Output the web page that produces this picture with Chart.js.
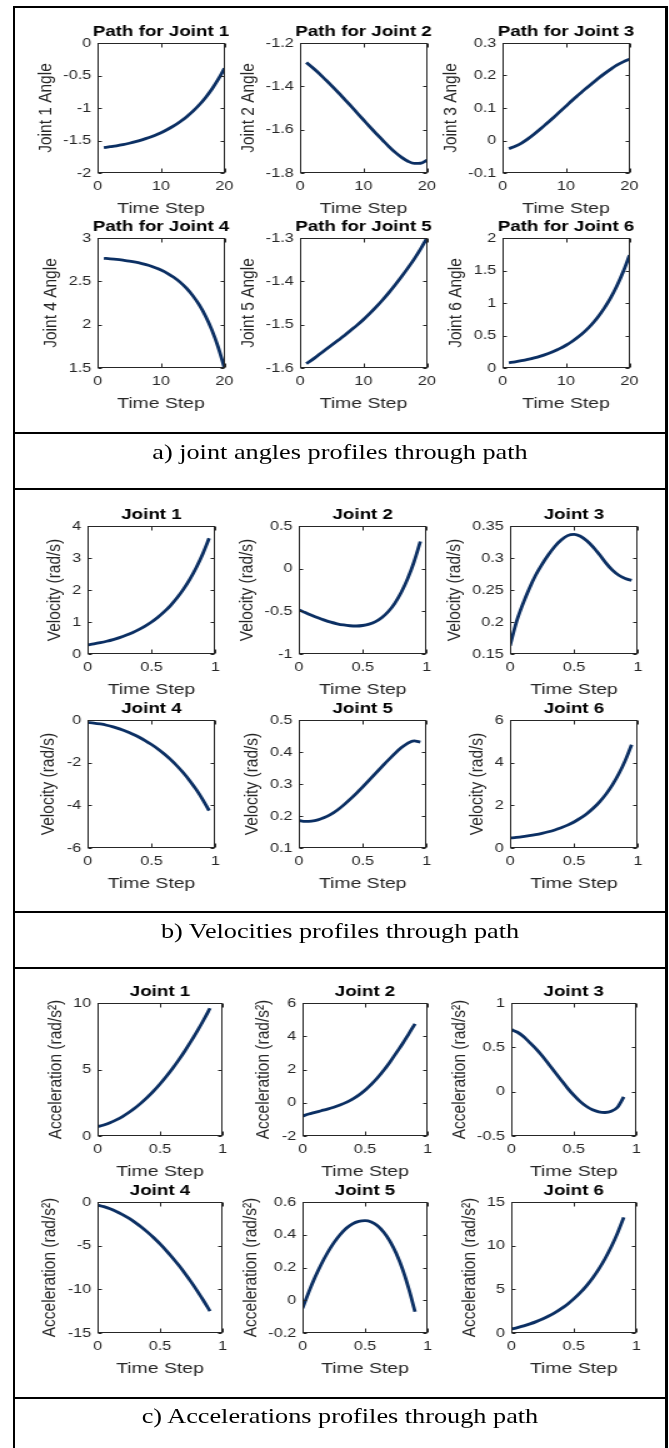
<!DOCTYPE html>
<html>
<head>
<meta charset="utf-8">
<title>Joint profiles through path</title>
<script src="https://cdn.jsdelivr.net/npm/chart.js@4.4.1/dist/chart.umd.min.js"></script>
<style>
  body { margin: 0; background: #fff; }
  #page { position: relative; width: 669px; height: 1448px; overflow: hidden; background: #fff; }
  /* the source figure is stretched sideways, so draw narrow and widen */
  #sheet { position: absolute; left: 0; top: 0; width: 535.2px; height: 1448px; transform: scaleX(1.25); transform-origin: 0 0; }
  .rule { position: absolute; background: #000; }
  .caption { position: absolute; left: 11.2px; width: 521.6px; text-align: center; font-family: "Liberation Serif", "Times New Roman", serif; font-size: 21px; line-height: 24px; color: #000; white-space: nowrap; }
  canvas { position: absolute; }
</style>
</head>
<body>
<div id="page">
  <div id="sheet">
    <div class="caption" style="top:440px">a) joint angles profiles through path</div>
    <div class="caption" style="top:919px">b) Velocities profiles through path</div>
    <div class="caption" style="top:1404px">c) Accelerations profiles through path</div>
  </div>
  <div class="rule" style="left:13px;top:6px;width:655px;height:2px"></div>
  <div class="rule" style="left:13px;top:6px;width:2px;height:1442px"></div>
  <div class="rule" style="left:665px;top:6px;width:2.5px;height:1442px"></div>
  <div class="rule" style="left:13px;top:432px;width:655px;height:2px"></div>
  <div class="rule" style="left:13px;top:488px;width:655px;height:2px"></div>
  <div class="rule" style="left:13px;top:911px;width:655px;height:2px"></div>
  <div class="rule" style="left:13px;top:967px;width:655px;height:2px"></div>
  <div class="rule" style="left:13px;top:1397px;width:655px;height:2px"></div>
</div>

<script>
// x values
const steps = [1, 2, 3, 4, 5, 6, 7, 8, 9, 10, 11, 12, 13, 14, 15, 16, 17, 18, 19, 20];
const timeVel = [0, 0.05, 0.1, 0.15, 0.2, 0.25, 0.3, 0.35, 0.4, 0.45, 0.5, 0.55, 0.6, 0.65, 0.7, 0.75, 0.8, 0.85, 0.9, 0.95];
const timeAcc = [0, 0.05, 0.1, 0.15, 0.2, 0.25, 0.3, 0.35, 0.4, 0.45, 0.5, 0.55, 0.6, 0.65, 0.7, 0.75, 0.8, 0.85, 0.9];

// a) joint angles
const angle1 = [-1.61, -1.596, -1.581, -1.563, -1.542, -1.518, -1.49, -1.459, -1.422, -1.38, -1.331, -1.276, -1.211, -1.137, -1.052, -0.954, -0.841, -0.711, -0.561, -0.389];
const angle2 = [-1.29, -1.314, -1.34, -1.369, -1.398, -1.428, -1.459, -1.49, -1.523, -1.555, -1.587, -1.618, -1.648, -1.678, -1.705, -1.728, -1.746, -1.756, -1.755, -1.741];
const angle3 = [-0.025, -0.018, -0.008, 0.005, 0.02, 0.036, 0.053, 0.07, 0.088, 0.106, 0.124, 0.141, 0.158, 0.174, 0.19, 0.205, 0.219, 0.232, 0.242, 0.25];
const angle4 = [2.766, 2.76, 2.753, 2.744, 2.734, 2.721, 2.704, 2.685, 2.66, 2.63, 2.593, 2.547, 2.491, 2.421, 2.335, 2.23, 2.1, 1.94, 1.742, 1.499];
const angle5 = [-1.59, -1.58, -1.569, -1.558, -1.547, -1.536, -1.525, -1.513, -1.501, -1.488, -1.474, -1.459, -1.443, -1.426, -1.408, -1.389, -1.369, -1.348, -1.325, -1.3];
const angle6 = [0.08, 0.095, 0.112, 0.132, 0.155, 0.183, 0.216, 0.254, 0.298, 0.35, 0.411, 0.483, 0.567, 0.666, 0.781, 0.917, 1.075, 1.261, 1.48, 1.735];

// b) velocities
const vel1 = [0.28, 0.314, 0.353, 0.398, 0.451, 0.512, 0.583, 0.665, 0.76, 0.871, 1.0, 1.149, 1.322, 1.522, 1.755, 2.026, 2.339, 2.703, 3.126, 3.616];
const vel2 = [-0.48, -0.514, -0.546, -0.576, -0.603, -0.627, -0.646, -0.66, -0.669, -0.672, -0.666, -0.65, -0.62, -0.572, -0.502, -0.406, -0.28, -0.12, 0.078, 0.318];
const vel3 = [0.163, 0.2, 0.228, 0.252, 0.273, 0.29, 0.305, 0.318, 0.328, 0.335, 0.337, 0.334, 0.327, 0.317, 0.305, 0.292, 0.281, 0.273, 0.268, 0.265];
const vel4 = [-0.12, -0.142, -0.186, -0.247, -0.324, -0.417, -0.527, -0.654, -0.797, -0.962, -1.149, -1.358, -1.595, -1.859, -2.156, -2.486, -2.855, -3.267, -3.729, -4.246];
const vel5 = [0.186, 0.183, 0.184, 0.188, 0.195, 0.205, 0.218, 0.234, 0.252, 0.271, 0.291, 0.312, 0.333, 0.354, 0.375, 0.395, 0.413, 0.427, 0.435, 0.431];
const vel6 = [0.47, 0.499, 0.535, 0.577, 0.627, 0.688, 0.76, 0.846, 0.949, 1.073, 1.22, 1.397, 1.609, 1.862, 2.164, 2.526, 2.959, 3.478, 4.097, 4.839];

// c) accelerations
const acc1 = [0.7, 0.826, 0.996, 1.209, 1.465, 1.764, 2.107, 2.494, 2.923, 3.396, 3.913, 4.472, 5.075, 5.722, 6.411, 7.144, 7.921, 8.741, 9.604];
const acc2 = [-0.8, -0.68, -0.58, -0.48, -0.38, -0.27, -0.14, 0.02, 0.22, 0.46, 0.75, 1.1, 1.5, 1.95, 2.45, 3.0, 3.55, 4.15, 4.75];
const acc3 = [0.7, 0.67, 0.62, 0.55, 0.48, 0.4, 0.31, 0.22, 0.13, 0.04, -0.04, -0.11, -0.165, -0.205, -0.228, -0.235, -0.222, -0.175, -0.06];
const acc4 = [-0.35, -0.536, -0.78, -1.081, -1.44, -1.856, -2.33, -2.861, -3.45, -4.096, -4.8, -5.561, -6.38, -7.256, -8.19, -9.181, -10.23, -11.336, -12.5];
const acc5 = [-0.05, 0.05, 0.14, 0.22, 0.29, 0.35, 0.4, 0.44, 0.467, 0.482, 0.486, 0.478, 0.455, 0.415, 0.36, 0.285, 0.19, 0.07, -0.07];
const acc6 = [0.45, 0.621, 0.817, 1.043, 1.302, 1.6, 1.942, 2.335, 2.786, 3.305, 3.9, 4.584, 5.37, 6.272, 7.309, 8.5, 9.868, 11.439, 13.245];

// axis limits [min, max, step]
const stepAxis = [0, 20, 10];
const timeAxis = [0, 1, 0.5];
const angleLimits = [[-2, 0, 0.5], [-1.8, -1.2, 0.2], [-0.1, 0.3, 0.1], [1.5, 3, 0.5], [-1.6, -1.3, 0.1], [0, 2, 0.5]];
const velLimits = [[0, 4, 1], [-1, 0.5, 0.5], [0.15, 0.35, 0.05], [-6, 0, 2], [0.1, 0.5, 0.1], [0, 6, 2]];
const accLimits = [[0, 10, 5], [-2, 6, 2], [-0.5, 1, 0.5], [-15, 0, 5], [-0.2, 0.6, 0.2], [0, 15, 5]];

const angleTitles = ["Path for Joint 1", "Path for Joint 2", "Path for Joint 3", "Path for Joint 4", "Path for Joint 5", "Path for Joint 6"];
const jointTitles = ["Joint 1", "Joint 2", "Joint 3", "Joint 4", "Joint 5", "Joint 6"];
const angleLabels = ["Joint 1 Angle", "Joint 2 Angle", "Joint 3 Angle", "Joint 4 Angle", "Joint 5 Angle", "Joint 6 Angle"];

// plot boxes in page pixels (x before the sideways stretch is undone)
const SX = 1.25;
const layoutA = { lefts: [98, 300, 502], width: 127, rows: [[43, 130], [238, 130]] };
const layoutB = { lefts: [88, 299, 510], width: 128, rows: [[526, 128], [720, 128]] };
const layoutC = { lefts: [97, 303, 511], width: 125, rows: [[1003, 133], [1202, 131]] };

const LINE = "#0b2f63";
const INK = "#262626";
Chart.defaults.font.family = "'Liberation Sans', Arial, Helvetica, sans-serif";
Chart.defaults.color = INK;

// matlab style box with inward ticks
const matlabBox = {
  id: "matlabBox",
  afterDraw(chart) {
    const { ctx, chartArea: a, scales } = chart;
    const l = Math.round(a.left) + 0.5, t = Math.round(a.top) + 0.5;
    const r = Math.round(a.right) - 0.5, b = Math.round(a.bottom) - 0.5;
    ctx.save();
    ctx.strokeStyle = INK;
    ctx.lineWidth = 1;
    ctx.strokeRect(l, t, r - l, b - t);
    ctx.beginPath();
    scales.x.ticks.forEach((tk) => {
      const px = Math.round(scales.x.getPixelForValue(tk.value)) + 0.5;
      ctx.moveTo(px, b); ctx.lineTo(px, b - 4);
      ctx.moveTo(px, t); ctx.lineTo(px, t + 4);
    });
    scales.y.ticks.forEach((tk) => {
      const py = Math.round(scales.y.getPixelForValue(tk.value)) + 0.5;
      ctx.moveTo(l, py); ctx.lineTo(l + 3, py);
      ctx.moveTo(r, py); ctx.lineTo(r - 3, py);
    });
    ctx.stroke();
    ctx.restore();
  },
};

// center the title over the plot box and give it room so it is not squeezed
const centerTitle = {
  id: "centerTitle",
  afterLayout(chart) {
    const tb = chart.titleBlock;
    const a = chart.chartArea;
    if (tb && a) {
      const mid = (a.left + a.right) / 2;
      tb.left = mid - 110;
      tb.right = mid + 110;
      tb.width = 220;
    }
  },
};

const tickText = (v) => String(Number(v.toFixed(6)));

const sheet = document.getElementById("sheet");

function drawPlot(left, top, width, height, xs, ys, xLim, yLim, title, yTitle) {
  const padL = 80, padT = 28, padR = 22, padB = 50;
  const w = width / SX;
  const cw = Math.round(padL + w + padR);
  const ch = Math.round(padT + height + padB);
  const canvas = document.createElement("canvas");
  canvas.width = cw;
  canvas.height = ch;
  canvas.style.left = (left / SX - padL) + "px";
  canvas.style.top = (top - padT) + "px";
  canvas.style.width = cw + "px";
  canvas.style.height = ch + "px";
  sheet.appendChild(canvas);

  const chart = new Chart(canvas, {
    type: "line",
    data: {
      datasets: [{
        data: xs.map((x, i) => ({ x: x, y: ys[i] })),
        borderColor: LINE,
        borderWidth: 2.8,
        pointRadius: 0,
        fill: false,
        cubicInterpolationMode: "monotone",
      }],
    },
    options: {
      responsive: false,
      animation: false,
      events: [],
      layout: { padding: { left: 0, top: 0, right: 0, bottom: 0 } },
      plugins: {
        legend: { display: false },
        tooltip: { enabled: false },
        title: {
          display: true,
          text: title,
          color: "#000",
          font: { size: 15, weight: "bold", lineHeight: 1.2 },
          padding: { top: 0, bottom: 2 },
        },
      },
      scales: {
        x: {
          type: "linear",
          min: xLim[0],
          max: xLim[1],
          ticks: { stepSize: xLim[2], padding: 6, maxRotation: 0, font: { size: 13 }, color: INK, callback: tickText },
          grid: { display: false, drawTicks: false },
          border: { display: false },
          title: { display: true, text: "Time Step", color: INK, font: { size: 15.5, lineHeight: 1 }, padding: { top: 0, bottom: 0 } },
        },
        y: {
          type: "linear",
          min: yLim[0],
          max: yLim[1],
          ticks: { stepSize: yLim[2], padding: 5, font: { size: 13 }, color: INK, callback: tickText },
          grid: { display: false, drawTicks: false },
          border: { display: false },
          title: { display: true, text: yTitle, color: INK, font: { size: 15.5, lineHeight: 1.2 }, padding: { top: 0, bottom: 0 } },
        },
      },
    },
    plugins: [matlabBox, centerTitle],
  });

  // nudge layout padding until the plot box sits exactly where it should
  const pad = { left: 0, top: 0, right: 0, bottom: 0 };
  for (let k = 0; k < 4; k++) {
    const a = chart.chartArea;
    pad.left += padL - a.left;
    pad.top += padT - a.top;
    pad.right += a.right - (padL + w);
    pad.bottom += a.bottom - (padT + height);
    chart.options.layout.padding = Object.assign({}, pad);
    chart.update("none");
  }
  return chart;
}

function drawPanel(lay, xs, series, xLim, limits, titles, yTitles) {
  series.forEach((ys, i) => {
    const row = lay.rows[Math.floor(i / 3)];
    drawPlot(lay.lefts[i % 3], row[0], lay.width, row[1], xs, ys, xLim, limits[i], titles[i], yTitles[i]);
  });
}

drawPanel(layoutA, steps, [angle1, angle2, angle3, angle4, angle5, angle6], stepAxis, angleLimits, angleTitles, angleLabels);
drawPanel(layoutB, timeVel, [vel1, vel2, vel3, vel4, vel5, vel6], timeAxis, velLimits, jointTitles, Array(6).fill("Velocity (rad/s)"));
drawPanel(layoutC, timeAcc, [acc1, acc2, acc3, acc4, acc5, acc6], timeAxis, accLimits, jointTitles, Array(6).fill("Acceleration (rad/s\u00B2)"));
</script>
</body>
</html>
